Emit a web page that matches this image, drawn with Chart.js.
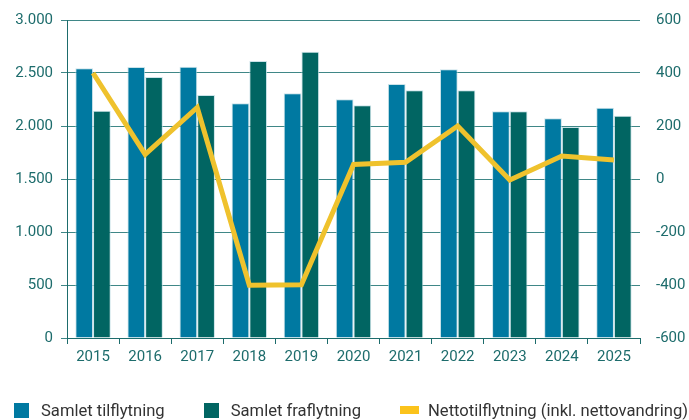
<!DOCTYPE html>
<html>
<head>
<meta charset="utf-8">
<script src="https://cdn.jsdelivr.net/npm/chart.js@4"></script>
<style>
  html, body { margin: 0; padding: 0; background: #fff; }
  #wrap { position: relative; width: 689px; height: 420px; }
  #legend {
    position: absolute; left: 14px; top: 400px; height: 20px;
    display: flex; align-items: center;
    font-family: Roboto, sans-serif; font-size: 16.6px; color: #333;
    white-space: nowrap;
  }
  .item { display: flex; align-items: center; }
  .box { width: 15px; height: 15px; margin-right: 12px; }
  .box.line { width: 19px; height: 8px; margin-right: 9px; }
  .item + .item { margin-left: 39px; }
</style>
</head>
<body>
<div id="wrap">
  <canvas id="myChart"></canvas>
  <div id="legend"></div>
</div>
<script>
const years = ["2015", "2016", "2017", "2018", "2019", "2020", "2021", "2022", "2023", "2024", "2025"];
const tilflytning = [2545, 2557, 2560, 2214, 2308, 2252, 2396, 2535, 2139, 2072, 2173];
const fraflytning = [2145, 2462, 2292, 2613, 2701, 2195, 2337, 2337, 2139, 1990, 2097];
const netto = [400, 93, 270, -401, -399, 55, 63, 200, -4, 87, 72];

const teal = "#1d6c6c";
const fmt = (v) => String(v).replace(/\B(?=(\d{3})+(?!\d))/g, ".");

const datasets = [
  {
    label: "Samlet tilflytning",
    data: tilflytning,
    backgroundColor: "#0079a1",
    borderColor: "rgba(190,220,228,0.8)",
    borderWidth: 1,
    yAxisID: "y",
    order: 1,
    categoryPercentage: 0.68,
    barPercentage: 1,
  },
  {
    label: "Samlet fraflytning",
    data: fraflytning,
    backgroundColor: "#016562",
    borderColor: "rgba(190,220,228,0.8)",
    borderWidth: 1,
    yAxisID: "y",
    order: 1,
    categoryPercentage: 0.68,
    barPercentage: 1,
  },
  {
    type: "line",
    label: "Nettotilflytning (inkl. nettovandring)",
    data: netto,
    borderColor: "#efc22d",
    backgroundColor: "#fbc31c",
    borderWidth: 5,
    pointRadius: 0,
    tension: 0,
    yAxisID: "y1",
    order: 0,
  },
];

// legend as html
const legend = document.getElementById("legend");
datasets.forEach((ds) => {
  const item = document.createElement("div");
  item.className = "item";
  const box = document.createElement("span");
  box.className = ds.type === "line" ? "box line" : "box";
  box.style.background = ds.backgroundColor;
  const txt = document.createElement("span");
  txt.textContent = ds.label;
  item.appendChild(box);
  item.appendChild(txt);
  legend.appendChild(item);
});

// drop the label padding so the layout padding decides the plot top
const noPad = (scale, w) => {
  scale.width = w;
  scale.paddingTop = 0;
  scale.paddingBottom = 0;
};

const ctx = document.getElementById("myChart").getContext("2d");
new Chart(ctx, {
  type: "bar",
  data: { labels: years, datasets: datasets },
  options: {
    responsive: true,
    maintainAspectRatio: false,
    animation: false,
    layout: { padding: { top: 20, left: 0, right: 0, bottom: 0 } },
    plugins: {
      tooltip: { enabled: false },
      legend: { display: false },
    },
    scales: {
      x: {
        offset: true,
        grid: { display: true, drawOnChartArea: false, drawTicks: true, tickLength: 6, color: teal },
        border: { color: teal },
        ticks: { color: teal, font: { family: "Roboto", size: 15 }, padding: 4 },
        afterFit: (scale) => { scale.height = 82; },
      },
      y: {
        position: "left",
        min: 0,
        max: 3000,
        grid: { color: "#3f8787", tickLength: 6 },
        border: { color: teal },
        ticks: { stepSize: 500, color: teal, font: { family: "Roboto", size: 15 }, padding: 8, callback: (v) => fmt(v) },
        afterFit: (scale) => noPad(scale, 67),
      },
      y1: {
        position: "right",
        min: -600,
        max: 600,
        grid: { drawOnChartArea: false, drawTicks: false },
        border: { display: false },
        ticks: { stepSize: 200, color: teal, font: { family: "Roboto", size: 15 }, padding: 16 },
        afterFit: (scale) => noPad(scale, 49),
      },
    },
  },
});
</script>
</body>
</html>
